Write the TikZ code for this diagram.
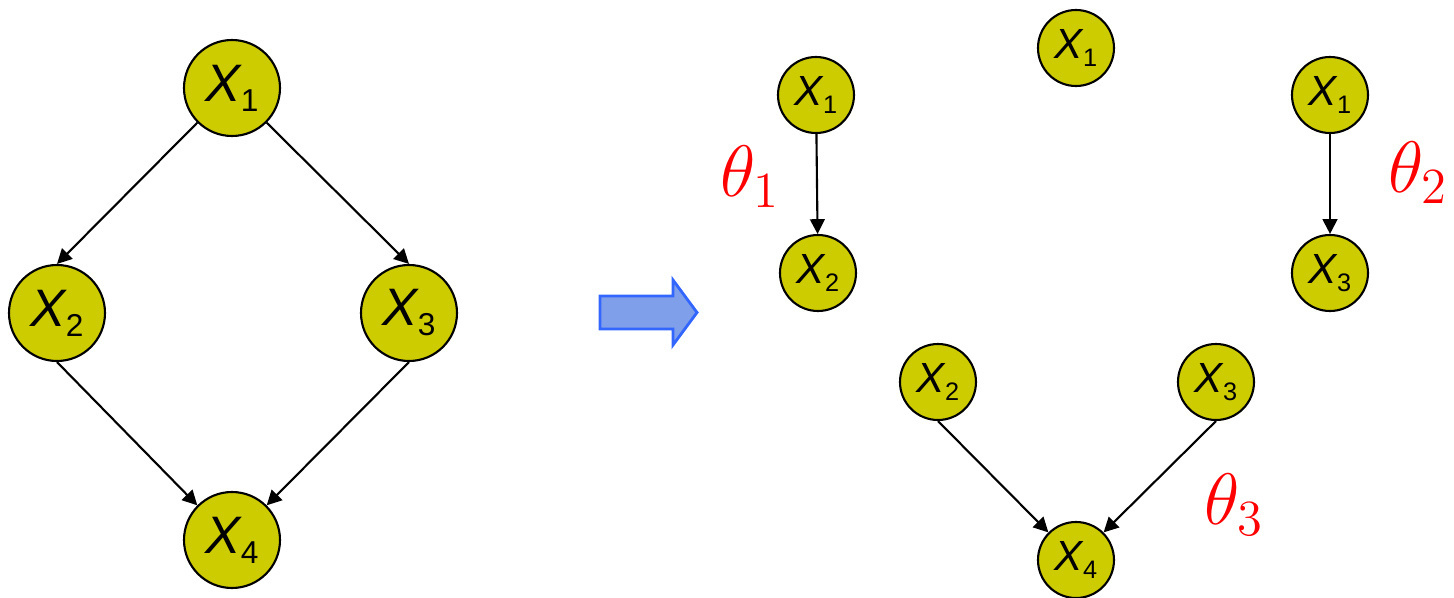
\documentclass[tikz,border=0pt]{standalone}
\usepackage{fontspec}
\setmainfont{Liberation Sans}
\usetikzlibrary{arrows.meta}
\definecolor{nodeyellow}{HTML}{CCCC00}
\definecolor{arrowfill}{HTML}{7F9FEA}
\definecolor{arrowline}{HTML}{3366FF}
\newcommand{\xvar}[1]{{\itshape X}\raisebox{-0.19em}{\scalebox{0.6}{#1}}}

\begin{document}
\begin{tikzpicture}[
  bigvar/.style={circle, draw, line width=0.6pt, fill=nodeyellow, minimum size=0.96cm, inner sep=0pt,
                 font=\fontsize{15}{15}\selectfont},
  smallvar/.style={circle, draw, line width=0.6pt, fill=nodeyellow, minimum size=0.76cm, inner sep=0pt,
                   font=\fontsize{12}{12}\selectfont},
  edge/.style={-{Triangle[length=4.2pt, width=4.2pt]}, line width=0.6pt},
  blockarrow/.style={draw=arrowline, line width=0.8pt, fill=arrowfill, line join=miter},
  thetalabel/.style={text=red, font=\fontsize{20}{20}\selectfont}
]
\useasboundingbox (0,0) rectangle (14.54,5.97);

% original network
\node[bigvar] (a1) at (2.32,5.09) {\xvar{1}};
\node[bigvar] (a2) at (0.57,2.84) {\xvar{2}};
\node[bigvar] (a3) at (4.09,2.84) {\xvar{3}};
\node[bigvar] (a4) at (2.32,0.57) {\xvar{4}};

\draw[edge] (a1.225) -- (a2.north);
\draw[edge] (a1.315) -- (a3.north);
\draw[edge] (a2.south) -- (a4.135);
\draw[edge] (a3.south) -- (a4.45);

% block arrow
\draw[blockarrow] (6.00,2.68) -- (6.73,2.68) -- (6.73,2.52) -- (6.97,2.845)
  -- (6.73,3.17) -- (6.73,3.01) -- (6.00,3.01) -- cycle;

% decomposed families
\node[smallvar] (b1) at (10.76,5.49) {\xvar{1}};

\node[smallvar] (c1) at (8.16,5.02) {\xvar{1}};
\node[smallvar] (c2) at (8.18,3.24) {\xvar{2}};
\draw[edge] (c1) -- (c2);
\node[thetalabel] (t1) at (7.50,4.20) {$\theta_1$};

\node[smallvar] (d1) at (13.30,5.02) {\xvar{1}};
\node[smallvar] (d3) at (13.30,3.24) {\xvar{3}};
\draw[edge] (d1) -- (d3);
\node[thetalabel] (t2) at (14.18,4.24) {$\theta_2$};

\node[smallvar] (e2) at (9.38,2.15) {\xvar{2}};
\node[smallvar] (e3) at (12.16,2.15) {\xvar{3}};
\node[smallvar] (e4) at (10.76,0.37) {\xvar{4}};
\draw[edge] (e2.south) -- (e4.135);
\draw[edge] (e3.south) -- (e4.45);
\node[thetalabel] (t3) at (12.34,0.92) {$\theta_3$};
\end{tikzpicture}
\end{document}
